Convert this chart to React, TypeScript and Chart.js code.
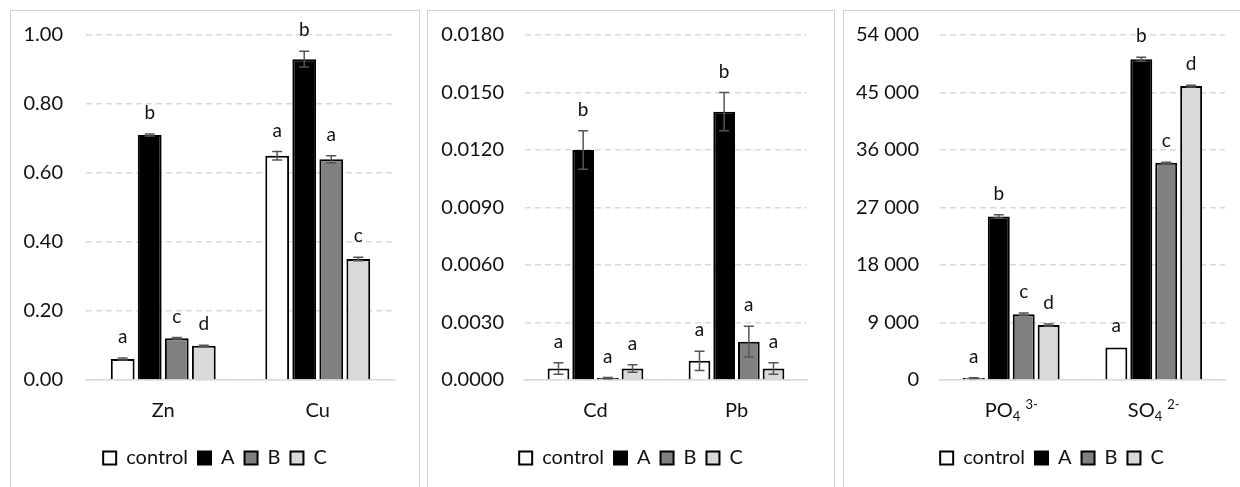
import React, { useEffect, useRef } from "react";
import { Chart, registerables } from "chart.js";

Chart.register(...registerables);

const SERIES_NAMES = ["control", "A", "B", "C"];
const SERIES_FILLS = ["#ffffff", "#000000", "#808080", "#d9d9d9"];

// Panel 1 – Zn, Cu
const metalCats = ["Zn", "Cu"];
const metalControl = [0.061, 0.65];
const metalA = [0.71, 0.93];
const metalB = [0.121, 0.64];
const metalC = [0.099, 0.351];
const metalControlErr = [0.003, 0.012];
const metalAErr = [0.003, 0.023];
const metalBErr = [0.002, 0.01];
const metalCErr = [0.002, 0.005];
const metalControlSig = ["a", "a"];
const metalASig = ["b", "b"];
const metalBSig = ["c", "a"];
const metalCSig = ["d", "c"];
const metalMax = 1.0;
const metalStep = 0.2;

// Panel 2 – Cd, Pb
const traceCats = ["Cd", "Pb"];
const traceControl = [0.0006, 0.001];
const traceA = [0.012, 0.014];
const traceB = [0.0001, 0.002];
const traceC = [0.0006, 0.0006];
const traceControlErr = [0.0003, 0.0005];
const traceAErr = [0.001, 0.001];
const traceBErr = [0.00003, 0.0008];
const traceCErr = [0.0002, 0.0003];
const traceControlSig = ["a", "a"];
const traceASig = ["b", "b"];
const traceBSig = ["a", "a"];
const traceCSig = ["a", "a"];
const traceMax = 0.018;
const traceStep = 0.003;

// Panel 3 – anions
const anionCats = ["PO₄ ³⁻", "SO₄ ²⁻"];
const anionControl = [300, 5100];
const anionA = [25600, 50200];
const anionB = [10300, 34000];
const anionC = [8600, 46000];
const anionControlErr = [60, 0];
const anionAErr = [250, 300];
const anionBErr = [200, 100];
const anionCErr = [150, 150];
const anionControlSig = ["a", "a"];
const anionASig = ["b", "b"];
const anionBSig = ["c", "c"];
const anionCSig = ["d", "d"];
const anionMax = 54000;
const anionStep = 9000;

const FONT = "Lato";
const TEXT = "#111111";
const FS = 20;

const SUB: Record<string, string> = { "₀": "0", "₁": "1", "₂": "2", "₃": "3", "₄": "4", "₅": "5", "₆": "6", "₇": "7", "₈": "8", "₉": "9" };
const SUP: Record<string, string> = { "⁰": "0", "¹": "1", "²": "2", "³": "3", "⁴": "4", "⁵": "5", "⁶": "6", "⁷": "7", "⁸": "8", "⁹": "9", "⁻": "-", "⁺": "+" };

function drawRichLabel(ctx: CanvasRenderingContext2D, text: string, cx: number, baseline: number) {
  const parts: { t: string; kind: number }[] = [];
  for (const ch of Array.from(text)) {
    let kind = 0;
    let t = ch;
    if (SUB[ch] !== undefined) { kind = 1; t = SUB[ch]; }
    else if (SUP[ch] !== undefined) { kind = 2; t = SUP[ch]; }
    const last = parts[parts.length - 1];
    if (last && last.kind === kind) last.t += t;
    else parts.push({ t, kind });
  }
  const fontFor = (k: number) => (k === 0 ? `${FS}px ${FONT}` : `13px ${FONT}`);
  let total = 0;
  const widths = parts.map((p) => {
    ctx.font = fontFor(p.kind);
    const w = ctx.measureText(p.t).width;
    total += w;
    return w;
  });
  let x = cx - total / 2;
  ctx.textAlign = "left";
  ctx.textBaseline = "alphabetic";
  parts.forEach((p, i) => {
    ctx.font = fontFor(p.kind);
    const dy = p.kind === 1 ? 4 : p.kind === 2 ? -8 : 0;
    ctx.fillText(p.t, x, baseline + dy);
    x += widths[i];
  });
}

const annotPlugin = {
  id: "annot",
  afterDatasetsDraw(chart: any) {
    const ctx: CanvasRenderingContext2D = chart.ctx;
    const yScale = chart.scales.y;
    ctx.save();
    chart.data.datasets.forEach((ds: any, i: number) => {
      const meta = chart.getDatasetMeta(i);
      meta.data.forEach((el: any, j: number) => {
        const v = ds.data[j];
        const e = ds.errors[j];
        const yTop = yScale.getPixelForValue(v + e);
        const yBot = yScale.getPixelForValue(Math.max(v - e, 0));
        if (e > 0) {
          ctx.strokeStyle = "#555555";
          ctx.lineWidth = 1.5;
          ctx.beginPath();
          ctx.moveTo(el.x, yTop);
          ctx.lineTo(el.x, yBot);
          ctx.moveTo(el.x - 5, yTop);
          ctx.lineTo(el.x + 5, yTop);
          ctx.moveTo(el.x - 5, yBot);
          ctx.lineTo(el.x + 5, yBot);
          ctx.stroke();
        }
        ctx.fillStyle = TEXT;
        ctx.font = `19px ${FONT}`;
        ctx.textAlign = "center";
        ctx.textBaseline = "alphabetic";
        ctx.fillText(ds.letters[j], el.x, yTop - 15);
      });
    });
    const xScale = chart.scales.x;
    ctx.fillStyle = TEXT;
    chart.data.labels.forEach((lab: string, i: number) => {
      drawRichLabel(ctx, lab, xScale.getPixelForTick(i), chart.chartArea.bottom + 37);
    });
    ctx.restore();
  },
};

type PanelProps = {
  left: number;
  width: number;
  cats: string[];
  values: number[][];
  errors: number[][];
  letters: string[][];
  max: number;
  step: number;
  fmt: (v: number) => string;
  yAxisWidth: number;
  tickPad: number;
  rightPad: number;
};

const CANVAS_H = 476;

function Panel(p: PanelProps) {
  const ref = useRef<HTMLCanvasElement | null>(null);
  useEffect(() => {
    if (!ref.current) return;
    const chart = new Chart(ref.current, {
      type: "bar",
      data: {
        labels: p.cats,
        datasets: SERIES_NAMES.map((name, i) => ({
          label: name,
          data: p.values[i],
          errors: p.errors[i],
          letters: p.letters[i],
          backgroundColor: SERIES_FILLS[i],
          borderColor: "#000000",
          borderWidth: 2,
          categoryPercentage: 0.7,
          barPercentage: 0.88,
        })) as any,
      },
      options: {
        responsive: false,
        animation: false,
        layout: { padding: { top: 24, bottom: 9, left: 0, right: 0 } },
        plugins: {
          legend: {
            position: "bottom",
            labels: {
              boxWidth: 13,
              boxHeight: 13,
              padding: 10,
              color: TEXT,
              font: { family: FONT, size: FS },
            },
          },
          tooltip: { enabled: false },
        },
        scales: {
          x: {
            type: "category",
            offset: true,
            grid: { display: false },
            border: { display: true, color: "#d9d9d9", width: 1.5 },
            ticks: { display: false },
            afterFit: (s: any) => {
              s.height = 58;
              s.paddingLeft = 0;
              s.paddingRight = 0;
            },
          },
          y: {
            type: "linear",
            min: 0,
            max: p.max,
            ticks: {
              stepSize: p.step,
              padding: p.tickPad,
              color: TEXT,
              font: { family: FONT, size: FS },
              callback: (v: any) => p.fmt(Number(v)),
            },
            grid: { color: "#d9d9d9", lineWidth: 1.5, drawTicks: false },
            border: { display: false, dash: [6, 4] },
            afterFit: (s: any) => {
              s.width = p.yAxisWidth;
              s.paddingTop = 10;
              s.paddingBottom = 10;
            },
          },
          yR: {
            type: "linear",
            position: "right",
            grid: { display: false },
            border: { display: false },
            ticks: { display: false },
            afterFit: (s: any) => {
              s.width = p.rightPad;
              s.paddingTop = 0;
              s.paddingBottom = 0;
            },
          },
        },
      } as any,
      plugins: [annotPlugin],
    });
    return () => chart.destroy();
  }, []);
  return (
    <div
      style={{
        position: "absolute",
        left: p.left,
        top: 10,
        width: p.width,
        height: 490,
        border: "1px solid #d0d0d0",
        background: "#fff",
      }}
    >
      <canvas ref={ref} width={p.width} height={CANVAS_H} style={{ display: "block" }} />
    </div>
  );
}

const fmtSpace = (v: number) => Math.round(v).toString().replace(/\B(?=(\d{3})+(?!\d))/g, " ");

export default function App() {
  return (
    <div
      style={{
        position: "absolute",
        left: 0,
        top: 0,
        width: 1240,
        height: 487,
        overflow: "hidden",
        background: "#fff",
      }}
    >
      <Panel
        left={10}
        width={408}
        cats={metalCats}
        values={[metalControl, metalA, metalB, metalC]}
        errors={[metalControlErr, metalAErr, metalBErr, metalCErr]}
        letters={[metalControlSig, metalASig, metalBSig, metalCSig]}
        max={metalMax}
        step={metalStep}
        fmt={(v) => v.toFixed(2)}
        yAxisWidth={75}
        tickPad={23}
        rightPad={24}
      />
      <Panel
        left={427}
        width={406}
        cats={traceCats}
        values={[traceControl, traceA, traceB, traceC]}
        errors={[traceControlErr, traceAErr, traceBErr, traceCErr]}
        letters={[traceControlSig, traceASig, traceBSig, traceCSig]}
        max={traceMax}
        step={traceStep}
        fmt={(v) => v.toFixed(4)}
        yAxisWidth={97}
        tickPad={21}
        rightPad={27}
      />
      <Panel
        left={843}
        width={416}
        cats={anionCats}
        values={[anionControl, anionA, anionB, anionC]}
        errors={[anionControlErr, anionAErr, anionBErr, anionCErr]}
        letters={[anionControlSig, anionASig, anionBSig, anionCSig]}
        max={anionMax}
        step={anionStep}
        fmt={fmtSpace}
        yAxisWidth={96}
        tickPad={21}
        rightPad={35}
      />
    </div>
  );
}
